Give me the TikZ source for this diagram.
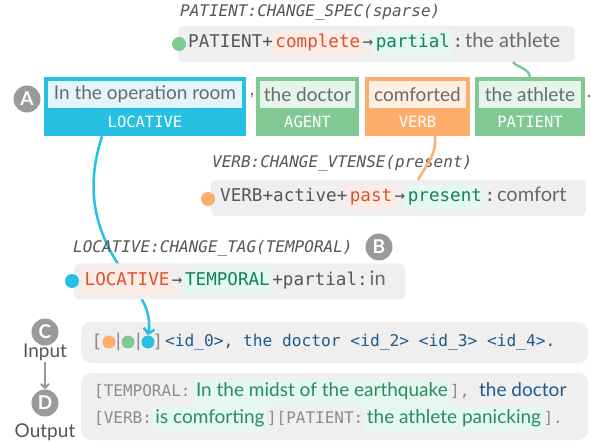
\documentclass[tikz,border=0pt]{standalone}
\usepackage{fontspec}
\setmainfont{Lato}
\setmonofont{DejaVu Sans Mono}
\usetikzlibrary{arrows.meta,positioning}

\definecolor{loccol}{HTML}{26C1E2}
\definecolor{locbg}{HTML}{E3F5FA}
\definecolor{grncol}{HTML}{80C993}
\definecolor{grnbg}{HTML}{E6F4E9}
\definecolor{orgcol}{HTML}{FDAD6C}
\definecolor{orgbg}{HTML}{FEEFE2}
\definecolor{badgegray}{HTML}{9A9A9A}
\definecolor{boxgray}{HTML}{EFEFEF}
\definecolor{txtgray}{HTML}{555555}
\definecolor{txtlight}{HTML}{6A6A6A}
\definecolor{oldred}{HTML}{D9532E}
\definecolor{oldbg}{HTML}{FDEBE5}
\definecolor{newgrn}{HTML}{13805F}
\definecolor{outgrn}{HTML}{2A8A66}
\definecolor{newbg}{HTML}{E5F8EF}
\definecolor{idblue}{HTML}{1F5A8C}
\definecolor{brgray}{HTML}{8C8C8C}

\newcommand{\sanstxt}{\fontsize{19}{22}\selectfont\rmfamily}
\newcommand{\boxsans}{\fontsize{20}{23}\selectfont\rmfamily}
\newcommand{\monotxt}{\fontsize{17.6}{20}\selectfont\ttfamily}
\newcommand{\optxt}{\fontsize{16}{19}\selectfont\ttfamily\itshape}
\newcommand{\labtxt}{\fontsize{15.5}{18}\selectfont\ttfamily}
\newcommand{\badgetxt}{\fontsize{19}{22}\selectfont\bfseries}

\newcommand{\oldtag}[1]{{\setlength{\fboxsep}{2.5pt}\colorbox{oldbg}{\strut\color{oldred}#1}}}
\newcommand{\newtag}[1]{{\setlength{\fboxsep}{2.5pt}\colorbox{newbg}{\strut\color{newgrn}#1}}}
\newcommand{\outtag}[1]{{\setlength{\fboxsep}{2.5pt}\colorbox{newbg}{\strut\color{outgrn}#1}}}
\newcommand{\outbr}[1]{{\fontsize{16}{19}\selectfont\color{brgray}\ttfamily #1}}

% role box: name, left, right, outer colour, inner colour, text, label
\newcommand{\rolebox}[7]{%
  \node[rolefill, fill=#4, minimum width=#3pt-#2pt] (#1) at ({(#2+#3)/2},106.5) {};
  \node[roletext, fill=#5, minimum width=#3pt-#2pt-8pt] (#1txt) at ({(#2+#3)/2},94.5) {#6};
  \node[rolelab] (#1lab) at ({(#2+#3)/2},122) {#7};}

\begin{document}
\begin{tikzpicture}[x=1pt, y=-1pt,
    rolefill/.style={inner sep=0pt, minimum height=59pt},
    roletext/.style={inner sep=0pt, minimum height=27pt, text=txtlight, font=\sanstxt},
    rolelab/.style={inner sep=0pt, text=white, font=\labtxt},
    graybox/.style={fill=boxgray, rounded corners=6pt, inner sep=0pt, anchor=west},
    optext/.style={anchor=west, inner sep=0pt, text=txtgray, font=\monotxt},
    opname/.style={anchor=west, inner sep=0pt, text=txtgray, font=\optxt},
    opdot/.style={circle, inner sep=0pt, minimum size=14pt},
    indot/.style={circle, inner sep=0pt, minimum size=13pt},
    badge/.style={circle, fill=badgegray, inner sep=0pt, minimum size=27pt, text=white, font=\badgetxt},
    sidelab/.style={inner sep=1pt, text=txtgray, font=\fontsize{19}{22}\selectfont},
    link/.style={line width=2.5pt}]
\useasboundingbox (0,0) rectangle (591,443);

%%%%% roles %%%%%
\rolebox{loc}{44}{246}{loccol}{locbg}{In the operation room}{LOCATIVE}
\node[inner sep=0pt, text=txtlight, font=\sanstxt] (comma) at (252,96) {,};
\rolebox{agt}{256}{359}{grncol}{grnbg}{the doctor}{AGENT}
\rolebox{vrb}{365}{470}{orgcol}{orgbg}{comforted}{VERB}
\rolebox{pat}{475}{585}{grncol}{grnbg}{the athlete}{PATIENT}
\node[inner sep=0pt, text=txtlight, font=\sanstxt] (stop) at (589,96) {.};
\node[badge] (badA) at (27,99) {A};

%%%%% input / output %%%%%
\node[graybox, rounded corners=10pt, minimum width=507pt, minimum height=41pt] (inbox) at (81,342.5) {};
\node[graybox, rounded corners=10pt, minimum width=507pt, minimum height=67pt] (outbox) at (81,406.5) {};

\node[inner sep=0pt, text=brgray, font=\monotxt] (brl) at (97,342) {[};
\node[indot, fill=orgcol] (dorg) at (109,342) {};
\node[inner sep=0pt, text=brgray, font=\monotxt] (sepa) at (118.5,342) {|};
\node[indot, fill=grncol] (dgrn) at (128,342) {};
\node[inner sep=0pt, text=brgray, font=\monotxt] (sepb) at (138.5,342) {|};
\node[indot, fill=loccol] (dloc) at (148,342) {};
\node[inner sep=0pt, text=brgray, font=\monotxt] (brr) at (158,342) {]};
\node[anchor=west, inner sep=0pt, text=idblue, font=\fontsize{16.2}{19}\selectfont\ttfamily] (intxt) at (165,342)
  {<id\_0>, the doctor <id\_2> <id\_3> <id\_4>.};

\node[anchor=west, inner sep=0pt, font=\sanstxt] (outa) at (94,392)
  {\outbr{[TEMPORAL:}\hspace{3pt}\outtag{In the midst of the earthquake}\outbr{],~}{\color{idblue}the doctor}};
\node[anchor=west, inner sep=0pt, font=\sanstxt] (outb) at (94,419)
  {\outbr{[VERB:}\hspace{1pt}\outtag{is comforting}\outbr{][PATIENT:}\hspace{1pt}\outtag{the athlete panicking}\outbr{].}};

\node[badge] (badC) at (45,332) {C};
\node[sidelab] (inlab) at (45,352) {Input};
\node[badge] (badD) at (45,403) {D};
\node[sidelab] (outlab) at (45,432) {Output};
\draw[badgegray, line width=2pt, -{Straight Barb[length=4pt,width=8pt]}] (inlab.south) -- (badD.north);

%%%%% cyan link, behind the locative op %%%%%
\draw[link, loccol, -{Straight Barb[length=5pt,width=11pt]}] ([xshift=-43pt]loc.south)
  .. controls (88,180) and (90,220) .. (118,264)
  .. controls (132,286) and (153,305) .. (dloc.north);

%%%%% operations %%%%%
\node[opname] (patop) at (180,12) {PATIENT:CHANGE\_SPEC(sparse)};
\node[graybox, minimum width=397pt, minimum height=36pt] (patbox) at (178,44) {};
\node[opdot, fill=grncol] (patdot) at (179,44) {};
\node[optext] (pattxt) at (188,44)
  {PATIENT+\oldtag{complete}→\newtag{partial}:\hspace{2pt}{\boxsans\color{txtlight}the athlete}};

\node[opname] (vrbop) at (212,163) {VERB:CHANGE\_VTENSE(present)};
\node[graybox, minimum width=375pt, minimum height=36pt] (vrbbox) at (211,198) {};
\node[opdot, fill=orgcol] (vrbdot) at (208,199) {};
\node[optext] (vrbtxt) at (220,198)
  {VERB+active+\oldtag{past}→\newtag{present}:\hspace{2pt}{\boxsans\color{txtlight}comfort}};

\node[opname] (locop) at (73,248) {LOCATIVE:CHANGE\_TAG(TEMPORAL)};
\node[badge] (badB) at (379,247) {B};
\node[graybox, minimum width=331pt, minimum height=36pt] (locbox) at (74,281.5) {};
\node[opdot, fill=loccol] (locdot) at (72,281) {};
\node[optext] (loctxt) at (82,281.5)
  {\oldtag{LOCATIVE}→\newtag{TEMPORAL}+partial:\hspace{2pt}{\boxsans\color{txtlight}in}};

%%%%% links %%%%%
\draw[link, grncol] (pat.north) to[out=100, in=-45] ([xshift=335pt]patbox.south west);
\draw[link, orgcol] ([xshift=17.5pt]vrb.south) to[out=-85, in=60] ([xshift=207pt]vrbbox.north west);

\end{tikzpicture}
\end{document}
